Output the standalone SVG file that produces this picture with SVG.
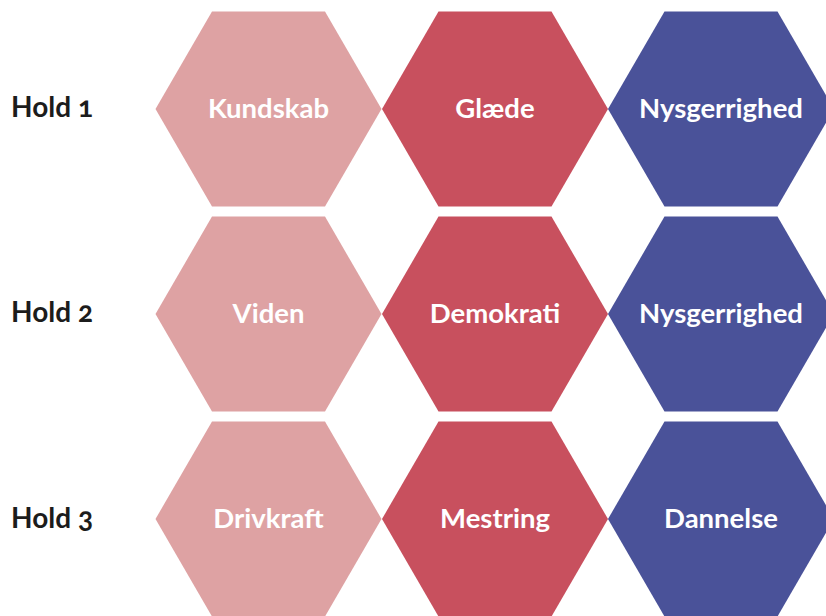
<svg xmlns="http://www.w3.org/2000/svg" width="826" height="616" viewBox="0 0 826 616">
<defs>
<style>
.lbl{font-family:Lato,"Liberation Sans",sans-serif;font-size:28px;fill:#1c1c1c;font-weight:700;font-variant-numeric:oldstyle-nums;font-feature-settings:"onum" 1}
.t{font-family:Lato,"Liberation Sans",sans-serif;font-size:27.5px;font-weight:700;fill:#ffffff;text-anchor:middle}
.c1{fill:#dea2a3}
.c2{fill:#c8505e}
.c3{fill:#4a5299}
</style>
<polygon id="hex" points="-113,0 -56.5,-97.5 56.5,-97.5 113,0 56.5,97.5 -56.5,97.5"/>
</defs>
<rect width="826" height="616" fill="#ffffff"/>
<g id="labels">
<text class="lbl" x="11" y="117">Hold 1</text>
<text class="lbl" x="11" y="322">Hold 2</text>
<text class="lbl" x="11" y="528">Hold 3</text>
</g>
<g id="r1c1"><use href="#hex" class="c1" x="268.5" y="109"/><text class="t" x="268.5" y="117.5">Kundskab</text></g>
<g id="r1c2"><use href="#hex" class="c2" x="495" y="109"/><text class="t" x="495" y="117.5">Glæde</text></g>
<g id="r1c3"><use href="#hex" class="c3" x="721" y="109"/><text class="t" x="721" y="117.5">Nysgerrighed</text></g>
<g id="r2c1"><use href="#hex" class="c1" x="268.5" y="314"/><text class="t" x="268.5" y="322.5">Viden</text></g>
<g id="r2c2"><use href="#hex" class="c2" x="495" y="314"/><text class="t" x="495" y="322.5">Demokrati</text></g>
<g id="r2c3"><use href="#hex" class="c3" x="721" y="314"/><text class="t" x="721" y="322.5">Nysgerrighed</text></g>
<g id="r3c1"><use href="#hex" class="c1" x="268.5" y="519"/><text class="t" x="268.5" y="527.5">Drivkraft</text></g>
<g id="r3c2"><use href="#hex" class="c2" x="495" y="519"/><text class="t" x="495" y="527.5">Mestring</text></g>
<g id="r3c3"><use href="#hex" class="c3" x="721" y="519"/><text class="t" x="721" y="527.5">Dannelse</text></g>
</svg>
